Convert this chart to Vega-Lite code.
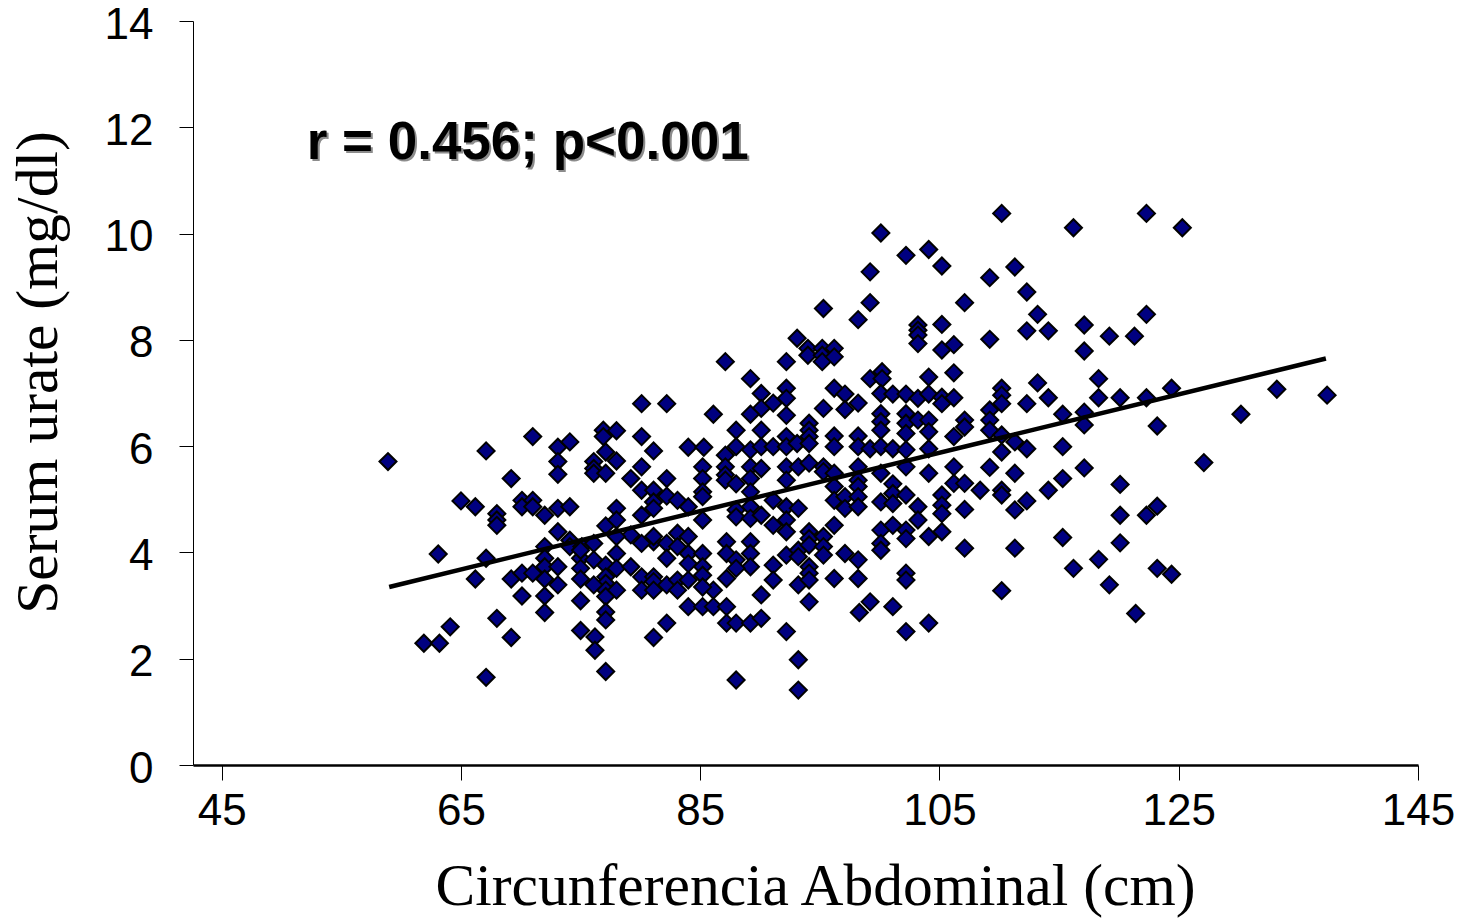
{
  "$schema": "https://vega.github.io/schema/vega-lite/v6.json",
  "autosize": {"type": "none"},
  "padding": {"left": 193, "top": 21, "right": 56, "bottom": 158},
  "width": 1225,
  "height": 744,
  "background": "white",
  "config": {"view": {"stroke": null}},
  "datasets": {
    "pts": [
      {"circ":58.9,"urate":5.71},{"circ":67.1,"urate":5.91},{"circ":71.0,"urate":6.18},{"circ":73.1,"urate":5.98},{"circ":74.1,"urate":6.08},
      {"circ":73.1,"urate":5.71},{"circ":73.1,"urate":5.47},{"circ":69.2,"urate":5.39},{"circ":65.0,"urate":4.97},{"circ":66.2,"urate":4.86},
      {"circ":68.0,"urate":4.73},{"circ":68.0,"urate":4.61},{"circ":68.0,"urate":4.51},{"circ":70.1,"urate":4.98},{"circ":70.1,"urate":4.86},
      {"circ":71.0,"urate":4.98},{"circ":71.0,"urate":4.86},{"circ":72.0,"urate":4.70},{"circ":73.1,"urate":4.83},{"circ":74.1,"urate":4.86},
      {"circ":76.9,"urate":6.30},{"circ":76.9,"urate":6.18},{"circ":78.0,"urate":6.29},{"circ":77.1,"urate":5.89},{"circ":76.1,"urate":5.71},
      {"circ":76.1,"urate":5.58},{"circ":76.1,"urate":5.49},{"circ":78.0,"urate":5.72},{"circ":77.1,"urate":5.49},{"circ":80.1,"urate":6.80},
      {"circ":82.2,"urate":6.80},{"circ":80.1,"urate":6.18},{"circ":81.1,"urate":5.91},{"circ":84.0,"urate":5.98},{"circ":80.1,"urate":5.61},
      {"circ":79.2,"urate":5.39},{"circ":82.2,"urate":5.39},{"circ":80.1,"urate":5.17},{"circ":81.1,"urate":5.17},{"circ":81.1,"urate":4.95},
      {"circ":81.1,"urate":4.83},{"circ":82.2,"urate":5.06},{"circ":83.1,"urate":4.98},{"circ":84.0,"urate":4.86},{"circ":78.0,"urate":4.83},
      {"circ":77.1,"urate":4.50},{"circ":78.0,"urate":4.61},{"circ":80.1,"urate":4.70},{"circ":73.1,"urate":4.39},{"circ":74.1,"urate":4.23},
      {"circ":74.1,"urate":4.11},{"circ":75.1,"urate":4.11},{"circ":76.1,"urate":4.17},{"circ":72.0,"urate":4.11},{"circ":63.1,"urate":3.97},
      {"circ":67.1,"urate":3.89},{"circ":66.2,"urate":3.50},{"circ":72.0,"urate":3.89},{"circ":72.0,"urate":3.73},{"circ":73.1,"urate":3.73},
      {"circ":69.2,"urate":3.50},{"circ":70.1,"urate":3.61},{"circ":71.0,"urate":3.61},{"circ":72.0,"urate":3.50},{"circ":73.1,"urate":3.39},
      {"circ":70.1,"urate":3.18},{"circ":72.0,"urate":3.18},{"circ":72.0,"urate":2.87},{"circ":75.0,"urate":3.89},{"circ":75.0,"urate":3.70},
      {"circ":75.0,"urate":3.50},{"circ":76.1,"urate":3.86},{"circ":77.1,"urate":3.76},{"circ":77.1,"urate":3.54},{"circ":77.1,"urate":3.42},
      {"circ":77.1,"urate":3.29},{"circ":77.1,"urate":3.17},{"circ":78.0,"urate":3.98},{"circ":78.0,"urate":3.70},{"circ":78.0,"urate":3.29},
      {"circ":79.2,"urate":3.73},{"circ":76.1,"urate":3.39},{"circ":75.0,"urate":3.09},{"circ":77.1,"urate":2.88},{"circ":77.1,"urate":2.73},
      {"circ":75.0,"urate":2.53},{"circ":76.2,"urate":2.41},{"circ":76.2,"urate":2.16},{"circ":77.1,"urate":1.76},{"circ":68.0,"urate":2.76},
      {"circ":69.2,"urate":2.40},{"circ":64.1,"urate":2.60},{"circ":61.9,"urate":2.29},{"circ":63.2,"urate":2.29},{"circ":67.1,"urate":1.65},
      {"circ":80.1,"urate":3.54},{"circ":80.1,"urate":3.29},{"circ":81.1,"urate":3.54},{"circ":81.1,"urate":3.45},{"circ":81.1,"urate":3.29},
      {"circ":82.2,"urate":3.39},{"circ":83.1,"urate":3.48},{"circ":83.1,"urate":3.29},{"circ":84.0,"urate":3.48},{"circ":84.0,"urate":2.98},
      {"circ":81.1,"urate":4.20},{"circ":81.1,"urate":4.30},{"circ":82.2,"urate":4.17},{"circ":82.2,"urate":3.89},{"circ":83.1,"urate":4.36},
      {"circ":83.1,"urate":4.11},{"circ":84.0,"urate":4.30},{"circ":84.0,"urate":3.98},{"circ":84.0,"urate":3.79},{"circ":79.2,"urate":4.33},
      {"circ":80.1,"urate":4.17},{"circ":82.2,"urate":2.67},{"circ":81.1,"urate":2.40},{"circ":78.0,"urate":4.30},{"circ":75.0,"urate":4.04},
      {"circ":100.1,"urate":10.01},{"circ":102.2,"urate":9.59},{"circ":104.1,"urate":9.70},{"circ":105.2,"urate":9.39},{"circ":109.2,"urate":9.17},
      {"circ":99.2,"urate":9.28},{"circ":99.2,"urate":8.70},{"circ":98.2,"urate":8.38},{"circ":95.3,"urate":8.59},{"circ":107.1,"urate":8.70},
      {"circ":103.2,"urate":8.28},{"circ":103.2,"urate":8.18},{"circ":103.2,"urate":8.09},{"circ":103.2,"urate":7.93},{"circ":105.2,"urate":8.29},
      {"circ":106.2,"urate":7.91},{"circ":105.2,"urate":7.81},{"circ":109.2,"urate":8.01},{"circ":93.1,"urate":8.03},{"circ":94.0,"urate":7.84},
      {"circ":94.0,"urate":7.71},{"circ":95.2,"urate":7.84},{"circ":95.2,"urate":7.71},{"circ":95.2,"urate":7.59},{"circ":96.2,"urate":7.84},
      {"circ":96.2,"urate":7.68},{"circ":92.2,"urate":7.59},{"circ":87.1,"urate":7.59},{"circ":89.2,"urate":7.27},{"circ":86.1,"urate":6.60},
      {"circ":90.1,"urate":6.99},{"circ":90.1,"urate":6.71},{"circ":91.1,"urate":6.81},{"circ":92.2,"urate":7.09},{"circ":92.2,"urate":6.90},
      {"circ":89.2,"urate":6.60},{"circ":92.2,"urate":6.58},{"circ":88.0,"urate":6.30},{"circ":90.1,"urate":6.30},{"circ":95.3,"urate":6.71},
      {"circ":96.2,"urate":7.09},{"circ":97.1,"urate":6.98},{"circ":97.1,"urate":6.69},{"circ":98.2,"urate":6.81},{"circ":99.2,"urate":7.27},
      {"circ":100.2,"urate":7.40},{"circ":100.2,"urate":7.27},{"circ":104.1,"urate":7.30},{"circ":106.2,"urate":7.38},{"circ":100.1,"urate":6.99},
      {"circ":101.1,"urate":6.98},{"circ":102.2,"urate":6.98},{"circ":103.2,"urate":6.90},{"circ":104.1,"urate":6.98},{"circ":105.2,"urate":6.92},
      {"circ":105.2,"urate":6.80},{"circ":106.2,"urate":6.91},{"circ":100.1,"urate":6.61},{"circ":100.1,"urate":6.46},{"circ":100.1,"urate":6.30},
      {"circ":102.2,"urate":6.61},{"circ":102.2,"urate":6.43},{"circ":102.2,"urate":6.24},{"circ":103.2,"urate":6.49},{"circ":104.1,"urate":6.49},
      {"circ":104.1,"urate":6.27},{"circ":107.1,"urate":6.49},{"circ":107.1,"urate":6.36},{"circ":109.2,"urate":6.68},{"circ":109.2,"urate":6.49},
      {"circ":109.2,"urate":6.30},{"circ":106.2,"urate":6.18},{"circ":85.3,"urate":5.98},{"circ":87.1,"urate":5.83},{"circ":88.0,"urate":5.99},
      {"circ":89.2,"urate":5.93},{"circ":90.1,"urate":5.99},{"circ":91.1,"urate":5.99},{"circ":92.2,"urate":6.18},{"circ":92.2,"urate":5.99},
      {"circ":93.1,"urate":6.05},{"circ":94.1,"urate":6.43},{"circ":94.1,"urate":6.30},{"circ":94.1,"urate":6.18},{"circ":94.1,"urate":6.05},
      {"circ":96.2,"urate":6.19},{"circ":96.2,"urate":5.99},{"circ":98.2,"urate":6.19},{"circ":98.2,"urate":5.99},{"circ":99.2,"urate":5.95},
      {"circ":100.1,"urate":5.99},{"circ":101.1,"urate":5.95},{"circ":102.2,"urate":5.93},{"circ":104.1,"urate":5.95},
      {"circ":85.2,"urate":5.61},{"circ":85.2,"urate":5.39},{"circ":85.2,"urate":5.14},{"circ":85.2,"urate":5.05},{"circ":87.1,"urate":5.61},
      {"circ":87.1,"urate":5.46},{"circ":87.1,"urate":5.36},{"circ":88.0,"urate":5.29},{"circ":89.2,"urate":5.61},{"circ":89.2,"urate":5.39},
      {"circ":89.2,"urate":5.14},{"circ":90.1,"urate":5.58},{"circ":92.2,"urate":5.61},{"circ":92.2,"urate":5.36},{"circ":93.2,"urate":5.61},
      {"circ":94.1,"urate":5.68},{"circ":95.3,"urate":5.61},{"circ":95.3,"urate":5.52},{"circ":96.2,"urate":5.49},{"circ":96.2,"urate":5.24},
      {"circ":98.2,"urate":5.61},{"circ":98.2,"urate":5.36},{"circ":98.2,"urate":5.24},{"circ":100.1,"urate":5.49},{"circ":101.1,"urate":5.29},
      {"circ":102.2,"urate":5.61},{"circ":104.1,"urate":5.49},{"circ":105.2,"urate":5.08},{"circ":105.2,"urate":4.89},{"circ":105.2,"urate":4.73},
      {"circ":106.2,"urate":5.61},{"circ":106.2,"urate":5.30},{"circ":107.1,"urate":5.30},{"circ":108.4,"urate":5.17},{"circ":109.2,"urate":5.60},
      {"circ":88.0,"urate":4.80},{"circ":88.0,"urate":4.67},{"circ":89.2,"urate":4.86},{"circ":89.2,"urate":4.64},{"circ":90.1,"urate":4.70},
      {"circ":91.1,"urate":4.98},{"circ":91.1,"urate":4.51},{"circ":92.2,"urate":4.86},{"circ":92.2,"urate":4.61},{"circ":92.2,"urate":4.39},
      {"circ":93.2,"urate":4.83},{"circ":85.2,"urate":4.61},{"circ":96.2,"urate":4.98},{"circ":96.2,"urate":4.51},{"circ":97.1,"urate":5.05},
      {"circ":97.1,"urate":4.83},{"circ":98.2,"urate":5.05},{"circ":98.2,"urate":4.86},{"circ":100.1,"urate":4.95},{"circ":100.1,"urate":4.42},
      {"circ":100.1,"urate":4.17},{"circ":100.1,"urate":4.04},{"circ":101.1,"urate":5.11},{"circ":101.1,"urate":4.92},{"circ":101.1,"urate":4.51},
      {"circ":102.2,"urate":5.08},{"circ":102.2,"urate":4.42},{"circ":102.2,"urate":4.26},{"circ":103.2,"urate":4.86},{"circ":103.2,"urate":4.61},
      {"circ":104.1,"urate":4.30},{"circ":105.2,"urate":4.39},{"circ":107.1,"urate":4.81},{"circ":107.1,"urate":4.08},{"circ":87.2,"urate":4.20},
      {"circ":87.2,"urate":3.98},{"circ":89.2,"urate":4.20},{"circ":89.2,"urate":3.98},{"circ":89.2,"urate":3.73},{"circ":88.0,"urate":3.86},
      {"circ":88.0,"urate":3.70},{"circ":85.2,"urate":3.98},{"circ":85.2,"urate":3.73},{"circ":85.2,"urate":3.57},{"circ":91.1,"urate":3.76},
      {"circ":91.1,"urate":3.48},{"circ":92.2,"urate":3.95},{"circ":93.2,"urate":4.04},{"circ":93.2,"urate":3.92},{"circ":93.2,"urate":3.39},
      {"circ":94.1,"urate":4.39},{"circ":94.1,"urate":4.26},{"circ":94.1,"urate":4.14},{"circ":94.1,"urate":3.73},{"circ":94.1,"urate":3.61},
      {"circ":94.1,"urate":3.48},{"circ":95.3,"urate":4.30},{"circ":95.3,"urate":4.11},{"circ":95.3,"urate":3.95},{"circ":97.1,"urate":3.98},
      {"circ":98.2,"urate":3.86},{"circ":96.2,"urate":3.51},{"circ":98.2,"urate":3.51},{"circ":102.2,"urate":3.61},{"circ":102.2,"urate":3.48},
      {"circ":87.2,"urate":3.51},{"circ":86.1,"urate":3.29},{"circ":85.2,"urate":3.35},{"circ":85.2,"urate":2.98},{"circ":86.1,"urate":2.98},
      {"circ":87.2,"urate":2.98},{"circ":87.2,"urate":2.67},{"circ":88.0,"urate":2.67},{"circ":89.2,"urate":2.67},{"circ":90.1,"urate":2.76},
      {"circ":90.1,"urate":3.20},{"circ":92.2,"urate":2.51},{"circ":94.1,"urate":3.07},{"circ":98.3,"urate":2.87},{"circ":99.2,"urate":3.07},
      {"circ":101.1,"urate":2.98},{"circ":102.2,"urate":2.51},{"circ":104.1,"urate":2.67},{"circ":93.2,"urate":1.98},{"circ":88.0,"urate":1.60},
      {"circ":93.2,"urate":1.41},
      {"circ":110.2,"urate":10.38},{"circ":116.2,"urate":10.11},{"circ":122.3,"urate":10.38},{"circ":125.3,"urate":10.11},{"circ":111.3,"urate":9.37},
      {"circ":112.3,"urate":8.90},{"circ":113.2,"urate":8.48},{"circ":112.3,"urate":8.17},{"circ":114.1,"urate":8.17},{"circ":117.1,"urate":8.28},
      {"circ":117.1,"urate":7.79},{"circ":119.2,"urate":8.07},{"circ":121.3,"urate":8.07},{"circ":122.3,"urate":8.48},{"circ":110.2,"urate":7.09},
      {"circ":110.2,"urate":6.96},{"circ":110.2,"urate":6.80},{"circ":113.2,"urate":7.19},{"circ":112.3,"urate":6.80},{"circ":114.1,"urate":6.91},
      {"circ":118.3,"urate":7.27},{"circ":118.3,"urate":6.91},{"circ":120.1,"urate":6.91},{"circ":122.3,"urate":6.91},{"circ":124.4,"urate":7.09},
      {"circ":115.3,"urate":6.60},{"circ":117.1,"urate":6.64},{"circ":117.1,"urate":6.40},{"circ":123.2,"urate":6.38},{"circ":130.2,"urate":6.60},
      {"circ":133.2,"urate":7.07},{"circ":137.4,"urate":6.96},{"circ":110.2,"urate":6.21},{"circ":111.3,"urate":6.08},{"circ":112.3,"urate":5.95},
      {"circ":115.3,"urate":5.99},{"circ":110.2,"urate":5.89},{"circ":111.3,"urate":5.49},{"circ":117.1,"urate":5.59},{"circ":127.1,"urate":5.69},
      {"circ":115.3,"urate":5.39},{"circ":110.2,"urate":5.17},{"circ":110.2,"urate":5.08},{"circ":114.1,"urate":5.17},{"circ":112.3,"urate":4.97},
      {"circ":111.3,"urate":4.80},{"circ":120.1,"urate":5.28},{"circ":120.1,"urate":4.70},{"circ":122.3,"urate":4.70},{"circ":123.2,"urate":4.87},
      {"circ":115.3,"urate":4.28},{"circ":111.3,"urate":4.08},{"circ":120.1,"urate":4.18},{"circ":118.3,"urate":3.87},{"circ":116.2,"urate":3.70},
      {"circ":123.2,"urate":3.70},{"circ":124.4,"urate":3.59},{"circ":119.2,"urate":3.39},{"circ":110.2,"urate":3.28},{"circ":121.4,"urate":2.85}
    ],
    "trend": [
      {"circ": 59.0, "urate": 3.35},
      {"circ": 137.3, "urate": 7.65}
    ],
    "note": [
      {"circ": 52.1, "urate": 11.4, "label": "r = 0.456; p<0.001"}
    ]
  },
  "layer": [
    {
      "data": {"name": "pts"},
      "mark": {"type": "point", "shape": "diamond", "filled": true, "size": 290, "fill": "#000080", "stroke": "#000000", "strokeWidth": 2, "opacity": 1},
      "encoding": {
        "x": {
          "field": "circ", "type": "quantitative",
          "scale": {"domain": [42.6, 145], "nice": false, "zero": false},
          "axis": {
            "title": "Circunferencia Abdominal (cm)",
            "values": [45, 65, 85, 105, 125, 145],
            "grid": false,
            "tickSize": 15, "tickColor": "#000000", "tickWidth": 1,
            "domainColor": "#000000", "domainWidth": 2.5,
            "labelFont": "Liberation Sans", "labelFontSize": 44, "labelColor": "#000000", "labelPadding": 9,
            "labelFlush": false, "labelOverlap": false,
            "titleFont": "Liberation Serif", "titleFontSize": 59.5, "titleFontWeight": "normal", "titleColor": "#000000",
            "titleX": 622, "titleY": 139, "titleAlign": "center", "titleBaseline": "alphabetic"
          }
        },
        "y": {
          "field": "urate", "type": "quantitative",
          "scale": {"domain": [0, 14], "nice": false},
          "axis": {
            "title": "Serum urate (mg/dl)",
            "values": [0, 2, 4, 6, 8, 10, 12, 14],
            "grid": false,
            "tickSize": 14, "tickColor": "#000000", "tickWidth": 1,
            "domainColor": "#000000", "domainWidth": 1,
            "labelFont": "Liberation Sans", "labelFontSize": 44, "labelColor": "#000000", "labelPadding": 26,
            "labelOffset": 4,
            "labelFlush": false, "labelOverlap": false,
            "titleFont": "Liberation Serif", "titleFontSize": 59.5, "titleFontWeight": "normal", "titleColor": "#000000",
            "titleX": -137, "titleY": 351, "titleAlign": "center", "titleBaseline": "alphabetic", "titleAngle": -90
          }
        }
      }
    },
    {
      "data": {"name": "trend"},
      "mark": {"type": "line", "color": "#000000", "strokeWidth": 4.5},
      "encoding": {
        "x": {"field": "circ", "type": "quantitative"},
        "y": {"field": "urate", "type": "quantitative"}
      }
    },
    {
      "data": {"name": "note"},
      "mark": {"type": "text", "font": "Liberation Sans", "fontSize": 53, "fontWeight": "bold", "align": "left", "baseline": "alphabetic", "color": "#8c8c8c", "dx": 2, "dy": 2},
      "encoding": {
        "x": {"field": "circ", "type": "quantitative"},
        "y": {"field": "urate", "type": "quantitative"},
        "text": {"field": "label"}
      }
    },
    {
      "data": {"name": "note"},
      "mark": {"type": "text", "font": "Liberation Sans", "fontSize": 53, "fontWeight": "bold", "align": "left", "baseline": "alphabetic", "color": "#000000"},
      "encoding": {
        "x": {"field": "circ", "type": "quantitative"},
        "y": {"field": "urate", "type": "quantitative"},
        "text": {"field": "label"}
      }
    }
  ]
}
